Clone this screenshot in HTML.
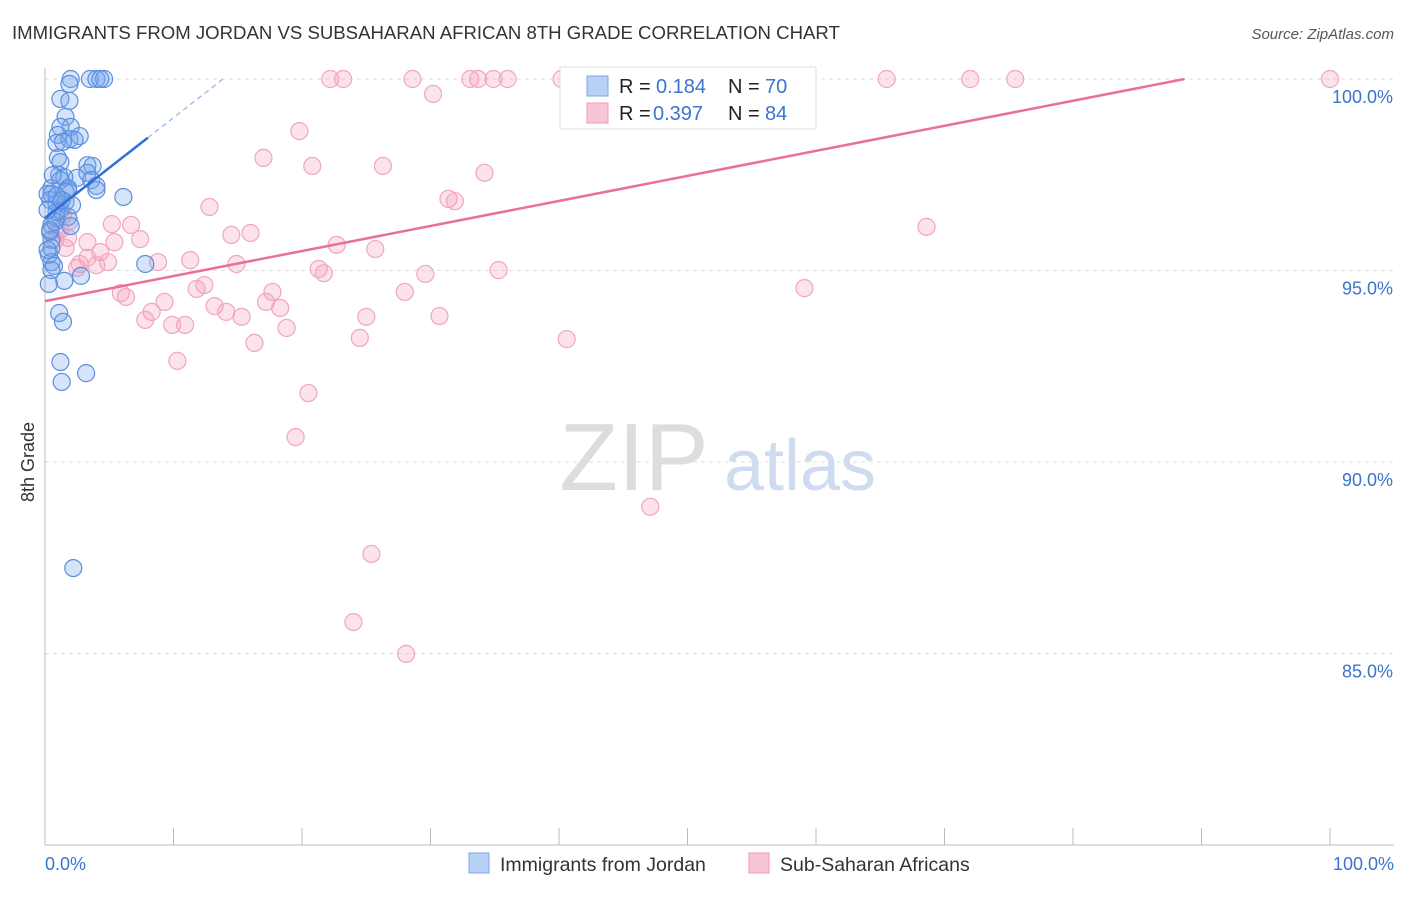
<!DOCTYPE html>
<html><head><meta charset="utf-8"><style>
body{margin:0;background:#fff;font-family:"Liberation Sans",sans-serif;}
svg text{font-family:"Liberation Sans",sans-serif;}
</style></head><body>
<svg id="chart" width="1406" height="892">
<text x="12" y="39" font-size="18.6" fill="#333">IMMIGRANTS FROM JORDAN VS SUBSAHARAN AFRICAN 8TH GRADE CORRELATION CHART</text>
<text x="1394" y="39" font-size="15" fill="#555" font-style="italic" text-anchor="end">Source: ZipAtlas.com</text>
<text x="34" y="462" font-size="18" fill="#333" transform="rotate(-90 34 462)" text-anchor="middle">8th Grade</text>
<g><text x="634" y="490" font-size="96" fill="#ddd" font-family="Liberation Serif" text-anchor="middle">ZIP</text><text x="800" y="490" font-size="72" fill="#cfdcef" text-anchor="middle">atlas</text></g>
<g id="grid"></g><g id="axes"></g><g id="pts"></g><g id="trend"></g>
<g>
<rect x="560" y="67" width="256" height="62" fill="#fff" stroke="#ddd"/>
<rect x="587" y="76" width="21" height="20" fill="#b8d0f5" stroke="#7ea6e6"/>
<rect x="587" y="103" width="21" height="20" fill="#f8c5d6" stroke="#ee9ab5"/>
<g font-size="20" fill="#222">
<text x="619" y="93">R =</text><text x="656" y="93" fill="#3a74d0">0.184</text><text x="728" y="93">N =</text><text x="765" y="93" fill="#3a74d0">70</text>
<text x="619" y="120">R =</text><text x="653" y="120" fill="#3a74d0">0.397</text><text x="728" y="120">N =</text><text x="765" y="120" fill="#3a74d0">84</text>
</g>
</g>
<g>
<rect x="469" y="853" width="20" height="20" fill="#b8d0f5" stroke="#7ea6e6"/>
<text x="500" y="871" font-size="19.5" fill="#333">Immigrants from Jordan</text>
<rect x="749" y="853" width="20" height="20" fill="#f8c5d6" stroke="#ee9ab5"/>
<text x="780" y="871" font-size="19.5" fill="#333">Sub-Saharan Africans</text>
</g>
</svg>
<script>
const yTicks=[100,95,90,85];
const yTickLabels=["100.0%","95.0%","90.0%","85.0%"];
const xTickLabels=["0.0%","100.0%"];
const blueX=[2.0,1.9,3.5,4.0,4.6,4.3,1.2,1.9,1.6,2.0,1.2,1.0,0.9,1.9,2.7,2.3,1.4,1.0,1.2,3.3,3.7,1.1,2.5,1.5,3.3,3.6,4.0,4.0,0.5,0.5,1.8,6.1,0.4,0.9,1.6,1.2,0.9,1.8,2.0,0.5,0.4,0.5,0.5,0.3,0.5,0.7,0.5,2.8,1.5,0.3,7.8,1.1,1.4,1.2,1.3,3.2,2.2,0.4,0.8,0.9,0.2,1.2,1.8,0.2,1.6,0.9,2.1,0.2,0.6,1.3];
const blueY=[100,99.87,100,100,100,100,99.48,99.43,99.01,98.75,98.75,98.54,98.33,98.43,98.51,98.41,98.36,97.94,97.83,97.75,97.73,97.49,97.42,97.44,97.55,97.36,97.21,97.10,97.15,97.0,97.10,96.92,96.84,96.74,96.79,96.58,96.37,96.40,96.16,96.19,96.01,95.80,95.59,95.41,95.22,95.12,95.01,94.86,94.73,94.65,95.17,93.89,93.66,92.61,92.09,92.32,87.23,96.06,96.27,96.53,97.0,97.36,97.15,95.54,97.05,96.95,96.71,96.58,97.49,96.84];
const pinkX=[22.2,23.2,28.6,33.1,33.7,34.9,36.0,40.2,46.1,52.3,65.5,72.0,75.5,100,41.6,30.2,19.8,17.0,20.8,26.3,34.2,31.4,31.9,12.8,68.6,6.7,1.2,1.8,3.3,5.4,7.4,14.5,16.0,22.7,25.7,8.8,11.3,14.9,4.3,4.9,4.0,2.5,2.7,21.3,21.7,29.6,35.3,5.9,6.3,11.8,12.4,17.7,28.0,59.1,8.3,7.8,9.3,13.2,14.1,15.3,17.2,18.3,25.0,30.7,9.9,10.9,18.8,16.3,24.5,40.6,10.3,20.5,19.5,47.1,25.4,24.0,28.1,1.4,1.9,0.8,1.6,0.9,5.2,3.3];
const pinkY=[100,100,100,100,100,100,100,100,100,100,100,100,100,100,99.19,99.61,98.64,97.94,97.73,97.73,97.55,96.87,96.81,96.66,96.14,96.19,96.06,95.85,95.74,95.74,95.82,95.93,95.98,95.67,95.56,95.22,95.27,95.17,95.48,95.22,95.14,95.07,95.17,95.04,94.93,94.91,95.01,94.41,94.31,94.52,94.62,94.44,94.44,94.54,93.92,93.71,94.18,94.07,93.92,93.79,94.18,94.02,93.79,93.81,93.58,93.58,93.50,93.11,93.24,93.21,92.64,91.80,90.65,88.83,87.60,85.82,84.99,96.45,96.29,95.80,95.59,96.01,96.21,95.33];
const blueTrend=[96.37,0.262];
const pinkTrend=[94.2,0.0654];
const X=v=>45+v*12.85, Y=v=>79+(100-v)*38.3;
const ns="http://www.w3.org/2000/svg";
function mk(t,a,p){const e=document.createElementNS(ns,t);for(const k in a)e.setAttribute(k,a[k]);document.getElementById(p).appendChild(e);return e;}
yTicks.forEach((v,i)=>{
 const l=mk('line',{x1:45,x2:1394,y1:Y(v),y2:Y(v),stroke:'#ddd','stroke-dasharray':'4,4'},'grid');
 
 
 const t=mk('text',{x:1393,y:Y(v)+24,'font-size':18,fill:'#3a74d0','text-anchor':'end'},'axes');t.textContent=yTickLabels[i];
 
 
});
const ya=mk('line',{x1:45,x2:45,y1:68,y2:845,stroke:'#bbb'},'axes');


const xa=mk('line',{x1:45,x2:1394,y1:845,y2:845,stroke:'#bbb'},'axes');


for(let i=0;i<=10;i++){const t=mk('line',{x1:X(i*10),x2:X(i*10),y1:828,y2:845,stroke:'#bbb'},'axes');
 
 }
[[0,'start',45],[100,'end',1394]].forEach((d,i)=>{const t=mk('text',{x:d[2],y:870,'font-size':18,fill:'#3a74d0','text-anchor':d[1]},'axes');t.textContent=xTickLabels[i];
 
 });
pinkX.forEach((x,i)=>{const c=mk('circle',{cx:X(x),cy:Y(pinkY[i]),r:8.5,fill:'rgba(244,160,190,0.3)',stroke:'#f0a6c0','stroke-width':1.2},'pts');
 
 });
blueX.forEach((x,i)=>{const c=mk('circle',{cx:X(x),cy:Y(blueY[i]),r:8.5,fill:'rgba(120,165,235,0.3)',stroke:'#5b8fe0','stroke-width':1.2},'pts');
 
 });
const bx1=8, bx2=(100-blueTrend[0])/blueTrend[1];
const b1=mk('line',{x1:X(0),y1:Y(blueTrend[0]),x2:X(bx1),y2:Y(blueTrend[0]+blueTrend[1]*bx1),stroke:'#2f6fd6','stroke-width':2.5},'trend');


const b2=mk('line',{x1:X(bx1),y1:Y(blueTrend[0]+blueTrend[1]*bx1),x2:X(bx2),y2:Y(100),stroke:'#8fb2ea','stroke-width':1.2,'stroke-dasharray':'5,4'},'trend');


const px2=(100-pinkTrend[0])/pinkTrend[1];
const p1=mk('line',{x1:X(0),y1:Y(pinkTrend[0]),x2:X(px2),y2:Y(100),stroke:'#e8709a','stroke-width':2.5},'trend');


</script>
</body></html>
